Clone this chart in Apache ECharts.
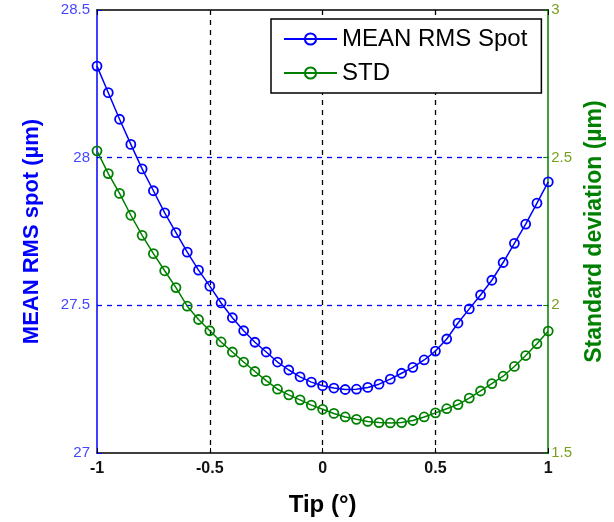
<!DOCTYPE html>
<html lang="en">
<head>
    <meta charset="UTF-8">
    <title>tip</title>
    <script src="https://cdn.jsdelivr.net/npm/echarts@6/dist/echarts.min.js"></script>
    <style>
        html, body { margin: 0; padding: 0; background: #fff; }
    </style>
</head>
<body>
    <div id="main" style="width: 614px; height:522px"></div>
<script>
    // tip angle (deg), step 0.05
    const tip = [-1, -0.95, -0.9, -0.85, -0.8, -0.75, -0.7, -0.65, -0.6, -0.55, -0.5,
        -0.45, -0.4, -0.35, -0.3, -0.25, -0.2, -0.15, -0.1, -0.05, 0,
        0.05, 0.1, 0.15, 0.2, 0.25, 0.3, 0.35, 0.4, 0.45, 0.5,
        0.55, 0.6, 0.65, 0.7, 0.75, 0.8, 0.85, 0.9, 0.95, 1]

    // mean rms spot (um), left axis
    const meanRms = [28.31, 28.22, 28.13, 28.045, 27.962, 27.888, 27.813, 27.746, 27.68, 27.619, 27.565,
        27.508, 27.458, 27.414, 27.375, 27.342, 27.308, 27.281, 27.258, 27.24, 27.228,
        27.22, 27.215, 27.216, 27.222, 27.233, 27.25, 27.27, 27.29, 27.315, 27.345,
        27.386, 27.44, 27.488, 27.535, 27.585, 27.645, 27.71, 27.775, 27.846, 27.918]

    // std (um), right axis
    const stdDev = [2.523, 2.446, 2.379, 2.305, 2.237, 2.175, 2.117, 2.06, 1.997, 1.952, 1.914,
        1.876, 1.842, 1.808, 1.776, 1.745, 1.716, 1.697, 1.68, 1.662, 1.648,
        1.634, 1.622, 1.614, 1.607, 1.603, 1.602, 1.603, 1.61, 1.622, 1.636,
        1.65, 1.664, 1.686, 1.71, 1.735, 1.76, 1.793, 1.83, 1.87, 1.913]

    const blue = '#0000ff'
    const green = '#008000'
    const font = '"Liberation Sans", Arial, sans-serif'

    pairs = (xs, ys) => xs.map((x, i) => [x, ys[i]])

    let option = {
        animation: false,
        backgroundColor: '#fff',
        textStyle: { fontFamily: font },
        grid: { left: 97, right: 61, top: 10, bottom: 61 },
        legend: {
            orient: 'vertical',
            left: 271,
            top: 19,
            padding: [7, 14, 7, 12],
            itemGap: 8,
            itemWidth: 53,
            itemHeight: 14,
            backgroundColor: '#fff',
            borderColor: '#000',
            borderWidth: 1.5,
            borderRadius: 0,
            textStyle: { fontSize: 24, lineHeight: 26, color: '#000', fontFamily: font },
            data: ['MEAN RMS Spot', 'STD']
        },
        xAxis: [{
            type: 'value',
            min: -1, max: 1, interval: 0.5,
            name: 'Tip (°)',
            nameLocation: 'middle',
            nameGap: 40,
            nameTextStyle: { fontSize: 24, fontWeight: 'bold', color: '#000' },
            axisLine: { onZero: false, lineStyle: { color: '#000', width: 1.5 } },
            axisTick: { inside: true, length: 5, lineStyle: { color: '#000' } },
            axisLabel: { fontSize: 16, fontWeight: 'bold', color: '#111', margin: 8 },
            splitLine: { show: true, showMinLine: false, showMaxLine: false,
                lineStyle: { color: '#000', type: [5, 5], width: 1.3 } }
        }, {
            type: 'value',
            position: 'top',
            min: -1, max: 1, interval: 0.5,
            axisLine: { show: true, onZero: false, lineStyle: { color: '#000', width: 1.5 } },
            axisTick: { inside: true, length: 5, lineStyle: { color: '#000' } },
            axisLabel: { show: false },
            splitLine: { show: false }
        }],
        yAxis: [{
            type: 'value',
            min: 27, max: 28.5, interval: 0.5,
            name: 'MEAN RMS spot (µm)',
            nameLocation: 'middle',
            nameGap: 54,
            nameTextStyle: { fontSize: 22, fontWeight: 'bold', color: blue },
            axisLine: { show: true, onZero: false, lineStyle: { color: blue, width: 1.5 } },
            axisTick: { show: true, inside: true, length: 5, lineStyle: { color: blue } },
            axisLabel: { fontSize: 15, color: '#4646ff', margin: 7 },
            splitLine: { show: true, showMinLine: false, showMaxLine: false,
                lineStyle: { color: blue, type: [5, 5], width: 1.3 } }
        }, {
            type: 'value',
            position: 'right',
            min: 1.5, max: 3, interval: 0.5,
            name: 'Standard deviation (µm)',
            nameLocation: 'middle',
            nameGap: 32,
            nameRotate: 90,
            nameTextStyle: { fontSize: 23, fontWeight: 'bold', color: green },
            axisLine: { show: true, onZero: false, lineStyle: { color: green, width: 1.5 } },
            axisTick: { show: true, inside: true, length: 5, lineStyle: { color: green } },
            axisLabel: { fontSize: 15, color: '#7aa020', margin: 3 },
            splitLine: { show: false }
        }],
        series: [{
            name: 'MEAN RMS Spot',
            type: 'line',
            xAxisIndex: 0,
            yAxisIndex: 0,
            symbol: 'circle',
            symbolSize: 9,
            lineStyle: { color: blue, width: 1.5 },
            itemStyle: { color: 'rgba(0,0,0,0)', borderColor: blue, borderWidth: 1.8 },
            data: pairs(tip, meanRms)
        }, {
            name: 'STD',
            type: 'line',
            xAxisIndex: 0,
            yAxisIndex: 1,
            symbol: 'circle',
            symbolSize: 9,
            lineStyle: { color: green, width: 1.5 },
            itemStyle: { color: 'rgba(0,0,0,0)', borderColor: green, borderWidth: 1.8 },
            data: pairs(tip, stdDev)
        }]
    }

    var myChart = echarts.init(document.getElementById('main'))
    myChart.setOption(option)
</script>
</body>
</html>
